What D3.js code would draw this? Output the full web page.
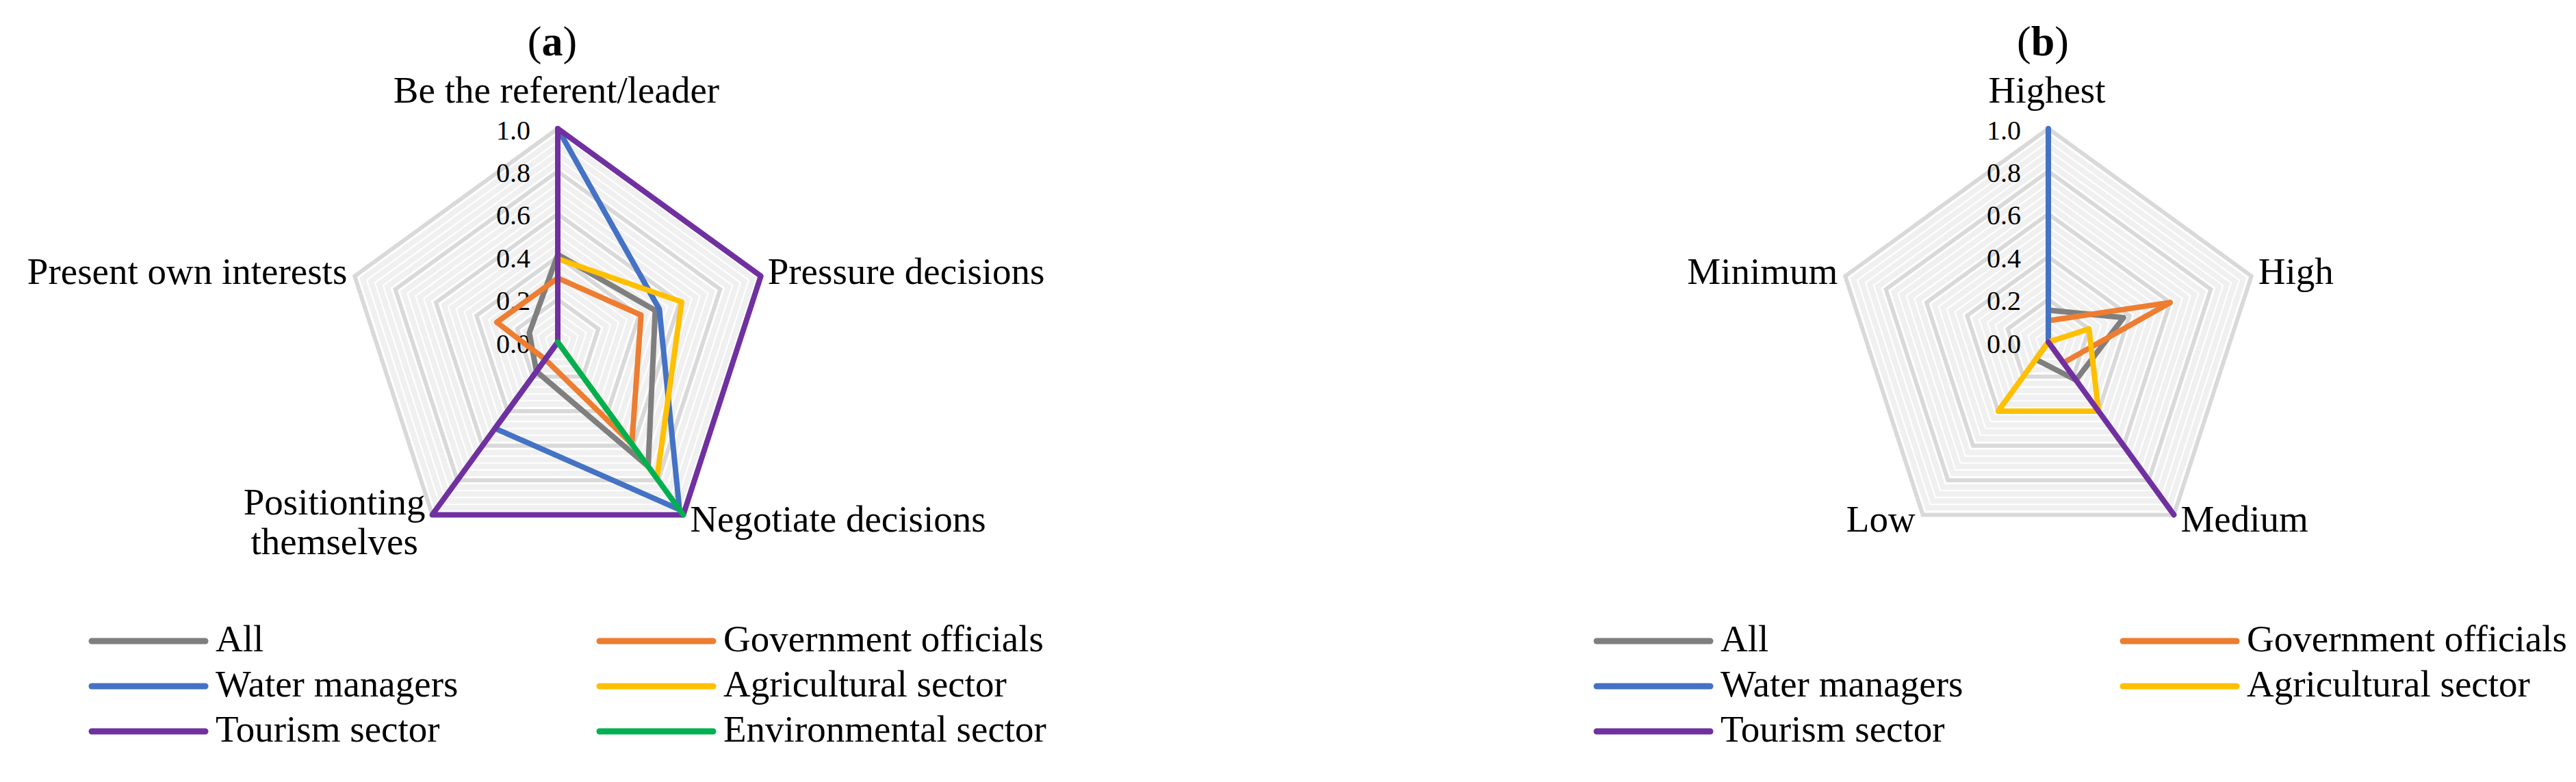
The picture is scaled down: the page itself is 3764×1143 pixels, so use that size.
<!DOCTYPE html>
<html>
<head>
<meta charset="utf-8">
<script src="https://cdn.jsdelivr.net/npm/d3@7"></script>
<style>
  body { margin: 0; background: #fff; }
  text { font-family: "Palatino Linotype", "Book Antiqua", Palatino, "Liberation Serif", serif; fill: #000; }
</style>
</head>
<body>
<script>
width = 3764
height = 1143
R = 312

// series names and colours (shared by both panels)
seriesNames = ["All", "Government officials", "Water managers", "Agricultural sector", "Tourism sector", "Environmental sector"]
seriesColors = ["#7f7f7f", "#ed7d31", "#4472c4", "#ffc000", "#7030a0", "#00b050"]

// panel (a)
axesA = ["Be the referent/leader", "Pressure decisions", "Negotiate decisions", "Positionting\nthemselves", "Present own interests"]
allA   = [0.41, 0.48, 0.72, 0.17, 0.14]
govA   = [0.30, 0.41, 0.59, 0.10, 0.30]
waterA = [1.00, 0.50, 0.97, 0.50, 0.00]
agriA  = [0.39, 0.61, 0.79, 0.00, 0.00]
tourA  = [1.00, 1.00, 1.00, 1.00, 0.00]
envA   = [0.00, 0.00, 1.00, 0.00, 0.00]

// panel (b)
axesB = ["Highest", "High", "Medium", "Low", "Minimum"]
allB   = [0.15, 0.37, 0.22, 0.10, 0.00]
govB   = [0.10, 0.60, 0.12, 0.00, 0.00]
waterB = [1.00, 0.00, 0.00, 0.00, 0.00]
agriB  = [0.00, 0.20, 0.40, 0.40, 0.00]
tourB  = [0.00, 0.00, 1.00, 0.00, 0.00]

tickValues = [0, 0.2, 0.4, 0.6, 0.8, 1.0]

svg = d3.select("body")
    .append("svg")
    .attr("width", width)
    .attr("height", height)

svg.append("rect")
    .attr("width", width)
    .attr("height", height)
    .attr("fill", "#fff")

r = d3.scaleLinear().domain([0, 1]).range([0, R])

function drawRadar(cx, cy, title, axes, series, legendX) {
    var n = axes.length
    var ang = function(i) { return i * 2 * Math.PI / n }
    var line = d3.lineRadial()
        .angle(function(d, i) { return ang(i) })
        .radius(function(d) { return r(d) })
        .curve(d3.curveLinearClosed)

    var g = svg.append("g").attr("transform", "translate(" + cx + "," + cy + ")")

    // gridlines: minor every 0.04, major every 0.2
    var levels = d3.range(1, 26).map(function(k) { return k * 0.04 })
    var minor = levels.filter(function(v, k) { return (k + 1) % 5 != 0 })
    var major = levels.filter(function(v, k) { return (k + 1) % 5 == 0 })
    g.selectAll("path.minor")
        .data(minor)
        .enter()
        .append("path")
        .attr("class", "minor")
        .attr("d", function(v) { return line(axes.map(function() { return v })) })
        .attr("fill", "none")
        .attr("stroke", "#f0f0f0")
        .attr("stroke-width", 8)
    g.selectAll("path.major")
        .data(major)
        .enter()
        .append("path")
        .attr("class", "major")
        .attr("d", function(v) { return line(axes.map(function() { return v })) })
        .attr("fill", "none")
        .attr("stroke", "#d9d9d9")
        .attr("stroke-width", 6)

    // value ticks
    g.selectAll("text.tick")
        .data(tickValues)
        .enter()
        .append("text")
        .attr("class", "tick")
        .attr("x", -40)
        .attr("y", function(d) { return -r(d) + 2 })
        .attr("text-anchor", "end")
        .attr("dominant-baseline", "central")
        .attr("font-size", 40)
        .text(d3.format(".1f"))

    // series
    g.selectAll("path.series")
        .data(series)
        .enter()
        .append("path")
        .attr("class", "series")
        .attr("d", function(d) { return line(d.values) })
        .attr("fill", "none")
        .attr("stroke", function(d) { return d.color })
        .attr("stroke-width", 8)
        .attr("stroke-linejoin", "round")
        .attr("stroke-linecap", "round")

    // category labels
    axes.forEach(function(label, i) {
        var a = ang(i)
        var vx = Math.sin(a) * R, vy = -Math.cos(a) * R
        var lines = label.split("\n")
        var t = g.append("text").attr("font-size", 55)
        if (Math.abs(vx) < 1) {
            t.attr("x", vx - 2).attr("y", vy - 38).attr("text-anchor", "middle").text(label)
        } else if (lines.length > 1) {
            t.attr("text-anchor", "middle")
            lines.forEach(function(s, j) {
                t.append("tspan").attr("x", 0).attr("y", vy + j * 58).text(s)
            })
            var w = t.node().getBBox().width
            t.selectAll("tspan").attr("x", vx - 10 - w / 2)
        } else {
            var dy = vy > 0 ? 25 : 11
            t.attr("x", vx > 0 ? vx + 10 : vx - 11)
                .attr("y", vy + dy)
                .attr("text-anchor", vx > 0 ? "start" : "end")
                .text(label)
        }
    })

    // title
    var tt = svg.append("text")
        .attr("x", cx - 8)
        .attr("y", 81)
        .attr("text-anchor", "middle")
        .attr("font-size", 62)
    tt.append("tspan").text("(")
    tt.append("tspan").attr("font-weight", "bold").text(title)
    tt.append("tspan").text(")")

    // legend: two columns, filled row by row
    var lg = svg.append("g")
    var item = lg.selectAll("g")
        .data(series)
        .enter()
        .append("g")
        .attr("transform", function(d, i) {
            return "translate(" + legendX[i % 2] + "," + (937 + Math.floor(i / 2) * 66) + ")"
        })
    item.append("line")
        .attr("x1", 0)
        .attr("x2", 166)
        .attr("stroke", function(d) { return d.color })
        .attr("stroke-width", 9)
        .attr("stroke-linecap", "round")
    item.append("text")
        .attr("x", 181)
        .attr("y", 15)
        .attr("font-size", 55)
        .text(function(d) { return d.name })
}

valuesA = [allA, govA, waterA, agriA, tourA, envA]
seriesA = valuesA.map(function(v, i) { return {name: seriesNames[i], color: seriesColors[i], values: v} })
valuesB = [allB, govB, waterB, agriB, tourB]
seriesB = valuesB.map(function(v, i) { return {name: seriesNames[i], color: seriesColors[i], values: v} })

drawRadar(815, 500, "a", axesA, seriesA, [134, 876])
drawRadar(2993, 500, "b", axesB, seriesB, [2333, 3102])
</script>
</body>
</html>
